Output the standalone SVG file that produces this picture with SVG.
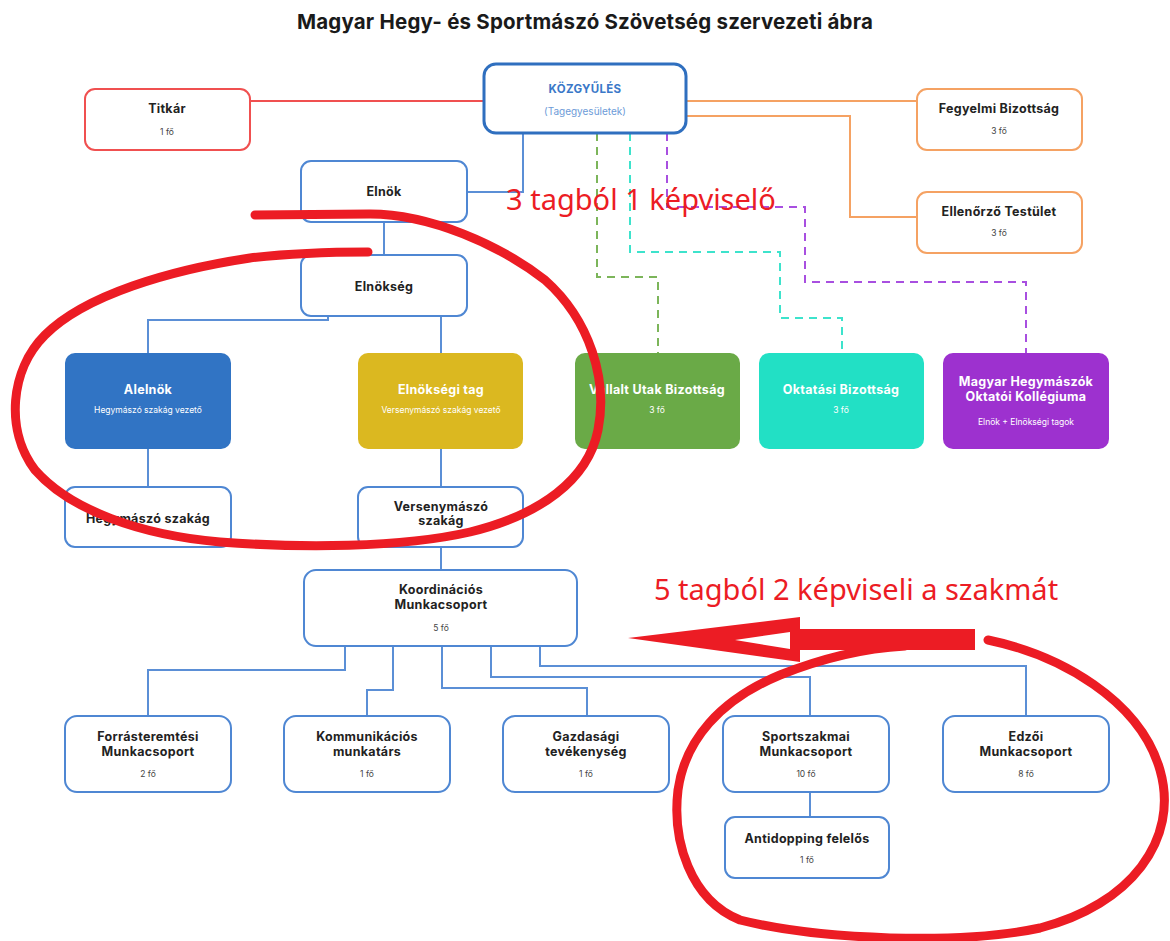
<svg xmlns="http://www.w3.org/2000/svg" width="1170" height="941" viewBox="0 0 1170 941">
<style>
  .t{font-family:Inter,"Open Sans","Liberation Sans",sans-serif;font-weight:700;font-size:12.5px;letter-spacing:0.3px;fill:#222;text-anchor:middle}
  .s{font-family:Inter,"Open Sans","Liberation Sans",sans-serif;font-size:8.5px;fill:#444;text-anchor:middle}
  .w{fill:#fff}
  .box{fill:#fff;stroke:#4f87d3;stroke-width:2}
  .org{fill:#fff;stroke:#f5a263;stroke-width:2}
  .ln{fill:none;stroke:#5b8fd6;stroke-width:2}
  .oln{fill:none;stroke:#f5a263;stroke-width:2}
  .dash{fill:none;stroke-width:2;stroke-dasharray:8 6}
  .red{fill:none;stroke:#ec1c24;stroke-width:9;stroke-linecap:round;stroke-linejoin:round}
  .ann{font-family:"Noto Sans","Open Sans","Liberation Sans",sans-serif;font-size:29px;fill:#ec1c24}
</style>
<rect width="1170" height="941" fill="#fff"/>
<text x="585" y="29" font-family="Inter,'Open Sans','Liberation Sans',sans-serif" font-weight="700" font-size="20.5" letter-spacing="0.2" fill="#1a1a1a" text-anchor="middle">Magyar Hegy- és Sportmászó Szövetség szervezeti ábra</text>

<g id="connectors">
  <path d="M250,101 H483" fill="none" stroke="#f05050" stroke-width="2"/>
  <path class="oln" d="M686,101 H916"/>
  <path class="oln" d="M686,116 H850 V217 H916"/>
  <path class="ln" d="M523,133 V192 H467"/>
  <path class="ln" d="M384,222 V255"/>
  <path class="ln" d="M328,316 V320 H148 V353"/>
  <path class="ln" d="M441,316 V353"/>
  <path class="ln" d="M148,449 V487"/>
  <path class="ln" d="M441,449 V487"/>
  <path class="ln" d="M441,547 V570"/>
  <path class="ln" d="M345,646 V670 H148 V716"/>
  <path class="ln" d="M393,646 V690 H367 V716"/>
  <path class="ln" d="M442,646 V688 H587 V716"/>
  <path class="ln" d="M491,646 V677 H810 V716"/>
  <path class="ln" d="M540,646 V666 H1026 V716"/>
  <path class="ln" d="M810,792 V817"/>
  <path class="dash" stroke="#7cb55a" d="M597,133 V277 H658 V353"/>
  <path class="dash" stroke="#3de3cc" d="M630,133 V252 H780 V318 H842 V353"/>
  <path class="dash" stroke="#a84fe0" d="M667,133 V207 H805 V282 H1026 V353"/>
</g>

<g id="kozgyules">
  <rect x="484" y="64" width="202" height="69" rx="12" fill="#fff" stroke="#2f6fbf" stroke-width="3"/>
  <text class="t" x="585" y="93" style="fill:#3a78c8;font-size:11.5px">KÖZGYŰLÉS</text>
  <text class="s" x="585" y="115" style="fill:#6d9bd8;font-size:10px">(Tagegyesületek)</text>
</g>
<g id="titkar">
  <rect x="85" y="89" width="165" height="61" rx="10" fill="#fff" stroke="#f05050" stroke-width="2"/>
  <text class="t" x="167" y="113">Titkár</text>
  <text class="s" x="167" y="135">1 fő</text>
</g>
<g id="fegyelmi">
  <rect class="org" x="917" y="89" width="165" height="61" rx="10"/>
  <text class="t" x="999" y="113">Fegyelmi Bizottság</text>
  <text class="s" x="999" y="134">3 fő</text>
</g>
<g id="ellenorzo">
  <rect class="org" x="917" y="192" width="165" height="61" rx="10"/>
  <text class="t" x="999" y="216">Ellenőrző Testület</text>
  <text class="s" x="999" y="236">3 fő</text>
</g>
<g id="elnok">
  <rect class="box" x="301" y="161" width="166" height="61" rx="10"/>
  <text class="t" x="384" y="196">Elnök</text>
</g>
<g id="elnokseg">
  <rect class="box" x="301" y="255" width="166" height="61" rx="10"/>
  <text class="t" x="384" y="291">Elnökség</text>
</g>
<g id="alelnok">
  <rect x="65" y="353" width="166" height="96" rx="10" fill="#3174c4"/>
  <text class="t w" x="148" y="394">Alelnök</text>
  <text class="s w" x="148" y="413">Hegymászó szakág vezető</text>
</g>
<g id="elnoksegi-tag">
  <rect x="358" y="353" width="165" height="96" rx="10" fill="#dbb820"/>
  <text class="t w" x="441" y="394">Elnökségi tag</text>
  <text class="s w" x="441" y="413">Versenymászó szakág vezető</text>
</g>
<g id="vallalt">
  <rect x="575" y="353" width="165" height="96" rx="10" fill="#6aaa47"/>
  <text class="t w" x="657" y="394">Vállalt Utak Bizottság</text>
  <text class="s w" x="657" y="413">3 fő</text>
</g>
<g id="oktatasi">
  <rect x="759" y="353" width="165" height="96" rx="10" fill="#22e0c5"/>
  <text class="t w" x="841" y="394">Oktatási Bizottság</text>
  <text class="s w" x="841" y="413">3 fő</text>
</g>
<g id="kollegium">
  <rect x="943" y="353" width="166" height="96" rx="10" fill="#9d31cf"/>
  <text class="t w" x="1026" y="386">Magyar Hegymászók</text>
  <text class="t w" x="1026" y="401">Oktatói Kollégiuma</text>
  <text class="s w" x="1026" y="425">Elnök + Elnökségi tagok</text>
</g>
<g id="hegymaszo-szakag">
  <rect class="box" x="65" y="487" width="166" height="60" rx="10"/>
  <text class="t" x="148" y="523">Hegymászó szakág</text>
</g>
<g id="versenymaszo-szakag">
  <rect class="box" x="358" y="487" width="165" height="60" rx="10"/>
  <text class="t" x="441" y="511">Versenymászó</text>
  <text class="t" x="441" y="525">szakág</text>
</g>
<g id="koordinacios">
  <rect class="box" x="304" y="570" width="273" height="76" rx="12"/>
  <text class="t" x="441" y="594">Koordinációs</text>
  <text class="t" x="441" y="609">Munkacsoport</text>
  <text class="s" x="441" y="631">5 fő</text>
</g>
<g id="forrasteremtesi">
  <rect class="box" x="65" y="716" width="166" height="76" rx="12"/>
  <text class="t" x="148" y="741">Forrásteremtési</text>
  <text class="t" x="148" y="756">Munkacsoport</text>
  <text class="s" x="148" y="777">2 fő</text>
</g>
<g id="kommunikacios">
  <rect class="box" x="284" y="716" width="166" height="76" rx="12"/>
  <text class="t" x="367" y="741">Kommunikációs</text>
  <text class="t" x="367" y="756">munkatárs</text>
  <text class="s" x="367" y="777">1 fő</text>
</g>
<g id="gazdasagi">
  <rect class="box" x="503" y="716" width="166" height="76" rx="12"/>
  <text class="t" x="586" y="741">Gazdasági</text>
  <text class="t" x="586" y="756">tevékenység</text>
  <text class="s" x="586" y="777">1 fő</text>
</g>
<g id="sportszakmai">
  <rect class="box" x="723" y="716" width="166" height="76" rx="12"/>
  <text class="t" x="806" y="741">Sportszakmai</text>
  <text class="t" x="806" y="756">Munkacsoport</text>
  <text class="s" x="806" y="777">10 fő</text>
</g>
<g id="edzoi">
  <rect class="box" x="943" y="716" width="166" height="76" rx="12"/>
  <text class="t" x="1026" y="741">Edzői</text>
  <text class="t" x="1026" y="756">Munkacsoport</text>
  <text class="s" x="1026" y="777">8 fő</text>
</g>
<g id="antidopping">
  <rect class="box" x="725" y="817" width="164" height="61" rx="10"/>
  <text class="t" x="807" y="843">Antidopping felelős</text>
  <text class="s" x="807" y="863">1 fő</text>
</g>

<g id="annotations">
  <text class="ann" x="641" y="210" text-anchor="middle">3 tagból 1 képviselő</text>
  <text class="ann" x="856" y="600" text-anchor="middle">5 tagból 2 képviseli a szakmát</text>
  <path class="red" d="M255,215 L370,214 C430,214 500,245 545,280 C590,320 608,380 598,430 C588,480 540,515 470,532 C400,548 300,548 220,542 C140,535 70,510 35,470 C5,430 10,370 45,335 C85,295 170,270 250,258 C300,252 340,252 368,252"/>
  <path class="red" d="M988,640 C1060,655 1140,700 1160,770 C1180,840 1130,905 1040,928 C960,945 820,940 740,920 C690,900 672,840 678,790 C685,740 720,700 780,675 C830,655 870,648 905,646"/>
  <rect x="787" y="629" width="188" height="21" fill="#ec1c24"/>
  <polygon points="628,638 800,617 800,662" fill="#ec1c24"/>
  <polygon points="735,640 790,632 790,649" fill="#fff"/>
</g>
</svg>
